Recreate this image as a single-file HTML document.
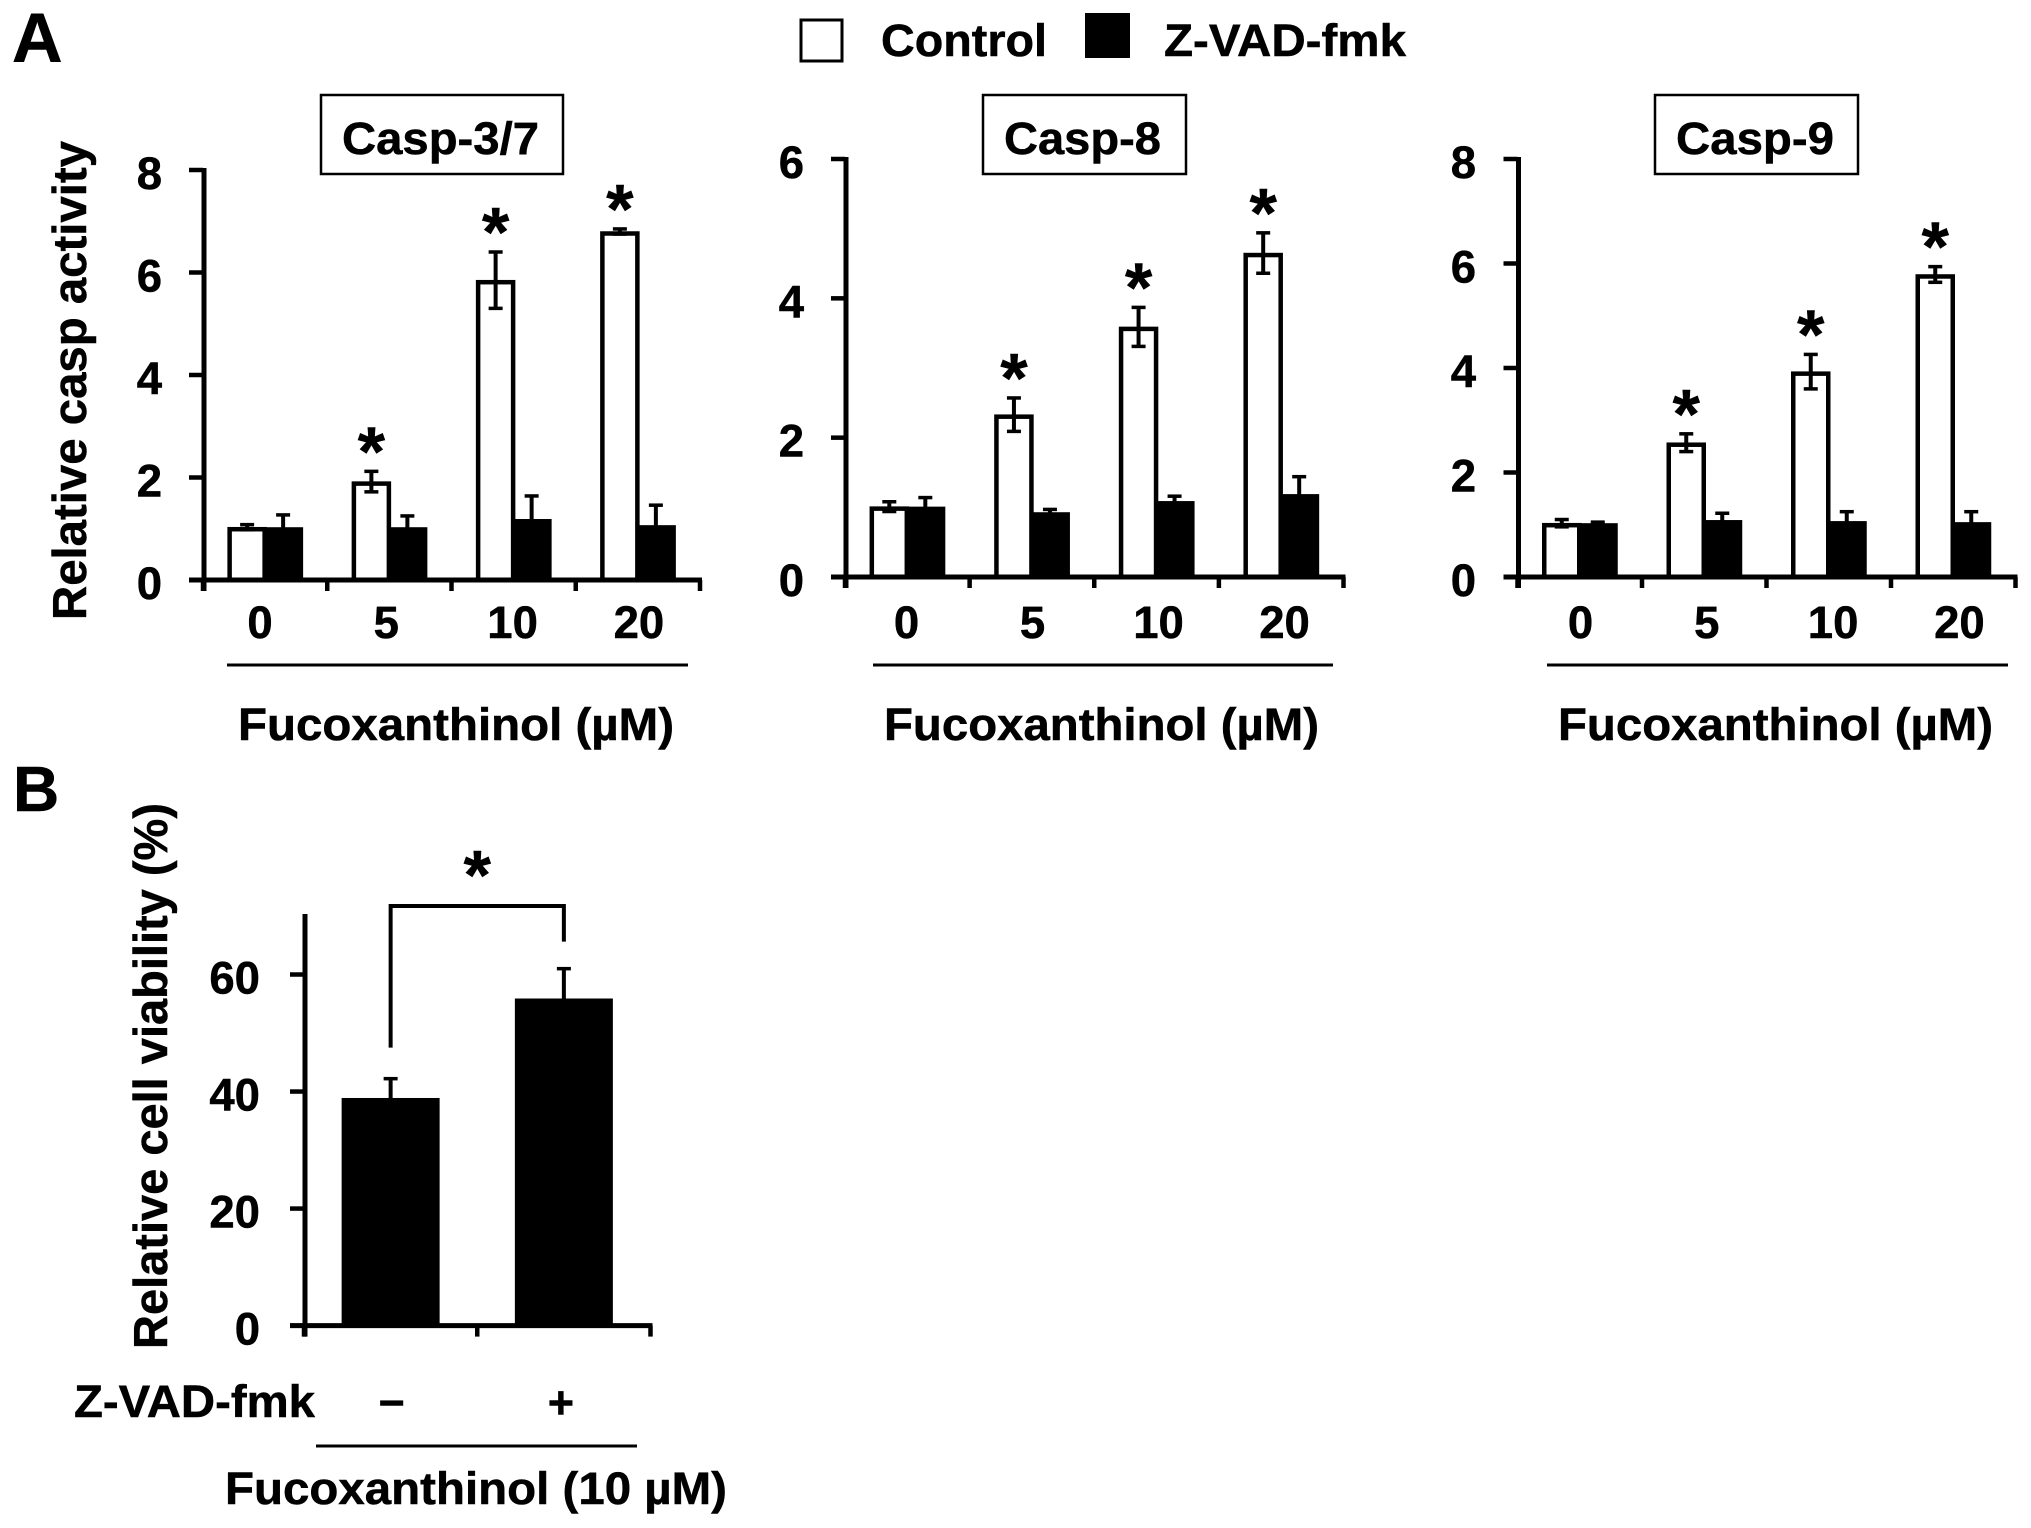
<!DOCTYPE html>
<html lang="en">
<head>
<meta charset="utf-8">
<title>Caspase activity and cell viability with Fucoxanthinol</title>
<style>
  html, body { margin: 0; padding: 0; background: #fff; }
  svg { display: block; }
  text { font-family: "Liberation Sans", Arial, sans-serif; font-weight: 700; fill: #000; stroke: #000; stroke-width: 0.5px; }
</style>
</head>
<body>
<svg id="figure" xmlns="http://www.w3.org/2000/svg" width="2031" height="1528" viewBox="0 0 2031 1528">
  <rect x="0" y="0" width="2031" height="1528" fill="#fff"/>

  <text x="12" y="62" font-size="70">A</text>
  <text x="13" y="811" font-size="64">B</text>

  <g>
    <rect x="801" y="20" width="41" height="41" fill="#fff" stroke="#000" stroke-width="3"/>
    <text x="881" y="56" font-size="45" textLength="166" lengthAdjust="spacingAndGlyphs">Control</text>
    <rect x="1085" y="13" width="45" height="45" fill="#000"/>
    <text x="1164" y="56" font-size="45" textLength="242" lengthAdjust="spacingAndGlyphs">Z-VAD-fmk</text>
  </g>

  <g>
    <rect x="321" y="95" width="242" height="79" fill="#fff" stroke="#000" stroke-width="2.5"/>
    <text x="342" y="154" font-size="45" textLength="197" lengthAdjust="spacingAndGlyphs">Casp-3/7</text>
  </g>
  <g>
    <rect x="983" y="95" width="203" height="79" fill="#fff" stroke="#000" stroke-width="2.5"/>
    <text x="1004" y="154" font-size="45" textLength="157" lengthAdjust="spacingAndGlyphs">Casp-8</text>
  </g>
  <g>
    <rect x="1655" y="95" width="203" height="79" fill="#fff" stroke="#000" stroke-width="2.5"/>
    <text x="1676" y="154" font-size="45" textLength="158" lengthAdjust="spacingAndGlyphs">Casp-9</text>
  </g>

  <text transform="translate(86,620) rotate(-90)" font-size="47" textLength="479" lengthAdjust="spacingAndGlyphs">Relative casp activity</text>
  <text transform="translate(167,1349) rotate(-90)" font-size="47" textLength="546" lengthAdjust="spacingAndGlyphs">Relative cell viability (%)</text>

  <g>
    <line x1="227" y1="665" x2="688" y2="665" stroke="#000" stroke-width="3"/>
    <text x="238" y="740" font-size="45" textLength="436" lengthAdjust="spacingAndGlyphs">Fucoxanthinol (µM)</text>
  </g>
  <g>
    <line x1="873" y1="665" x2="1333" y2="665" stroke="#000" stroke-width="3"/>
    <text x="884" y="740" font-size="45" textLength="435" lengthAdjust="spacingAndGlyphs">Fucoxanthinol (µM)</text>
  </g>
  <g>
    <line x1="1547" y1="665" x2="2008" y2="665" stroke="#000" stroke-width="3"/>
    <text x="1558" y="740" font-size="45" textLength="435" lengthAdjust="spacingAndGlyphs">Fucoxanthinol (µM)</text>
  </g>

  <g>
    <text x="74" y="1417" font-size="45" textLength="241" lengthAdjust="spacingAndGlyphs">Z-VAD-fmk</text>
    <line x1="316" y1="1446" x2="637" y2="1446" stroke="#000" stroke-width="3"/>
    <text x="225" y="1504" font-size="45" textLength="502" lengthAdjust="spacingAndGlyphs">Fucoxanthinol (10 µM)</text>
  </g>

  <g id="plots"></g>
</svg>

<script>
// ---- Panel A data ----
const doseCategories = ['0', '5', '10', '20'];

const casp37Ticks = [0, 2, 4, 6, 8];
const casp37Control = [1.03, 1.92, 5.85, 6.8];
const casp37ControlErr = [0.05, 0.2, 0.55, 0.05];
const casp37Zvad = [1.03, 1.03, 1.19, 1.07];
const casp37ZvadErr = [0.24, 0.22, 0.45, 0.39];
const casp37Significant = [false, true, true, true];

const casp8Ticks = [0, 2, 4, 6];
const casp8Control = [1.01, 2.33, 3.59, 4.65];
const casp8ControlErr = [0.07, 0.24, 0.28, 0.29];
const casp8Zvad = [1.01, 0.93, 1.09, 1.19];
const casp8ZvadErr = [0.13, 0.04, 0.07, 0.25];
const casp8Significant = [false, true, true, true];

const casp9Ticks = [0, 2, 4, 6, 8];
const casp9Control = [1.03, 2.57, 3.93, 5.79];
const casp9ControlErr = [0.07, 0.17, 0.33, 0.15];
const casp9Zvad = [1.03, 1.09, 1.07, 1.05];
const casp9ZvadErr = [0.02, 0.13, 0.18, 0.2];
const casp9Significant = [false, true, true, true];

// ---- Panel B data ----
const viabilityTicks = [0, 20, 40, 60];
const viabilityCategories = ['−', '+'];
const viabilityValues = [38.9, 55.9];
const viabilityErr = [3.3, 5.1];

const SVG_NS = 'http://www.w3.org/2000/svg';
const plots = document.getElementById('plots');

function make(tag, attrs, parent) {
  const node = document.createElementNS(SVG_NS, tag);
  for (const key in attrs) node.setAttribute(key, attrs[key]);
  parent.appendChild(node);
  return node;
}

function linearY(yTop, yBottom, yMax) {
  return function (v) { return yBottom - (v / yMax) * (yBottom - yTop); };
}

function bandX(xStart, xEnd, count) {
  const step = (xEnd - xStart) / count;
  return function (i) { return xStart + step * (i + 0.5); };
}

function drawErrorBar(parent, x, yHigh, yLow, capW, name) {
  const stem = make('line', { x1: x, y1: yHigh, x2: x, y2: yLow, stroke: '#000', 'stroke-width': 4 }, parent);
  
  
  const top = make('line', { x1: x - capW / 2, y1: yHigh, x2: x + capW / 2, y2: yHigh, stroke: '#000', 'stroke-width': 3.5 }, parent);
  
  
  const bottom = make('line', { x1: x - capW / 2, y1: yLow, x2: x + capW / 2, y2: yLow, stroke: '#000', 'stroke-width': 3.5 }, parent);
  
  
}

function drawAxes(parent, c, y, tickValues, tickLabelX, xDivisions) {
  const yAxis = make('line', { x1: c.xStart + 1, y1: c.yTop - 2, x2: c.xStart + 1, y2: c.yBottom + 11, stroke: '#000', 'stroke-width': 5 }, parent);
  
  
  const xAxis = make('line', { x1: c.xStart - 14, y1: c.yBottom, x2: c.xEnd + 2, y2: c.yBottom, stroke: '#000', 'stroke-width': 5 }, parent);
  
  

  tickValues.forEach(function (v) {
    const t = make('line', { x1: c.xStart - 14, y1: y(v), x2: c.xStart, y2: y(v), stroke: '#000', 'stroke-width': 4.5 }, parent);
    
    
    const l = make('text', { x: tickLabelX, y: y(v) + 19, 'text-anchor': 'end', 'font-size': 45.5 }, parent);
    
    
    l.textContent = String(v);
  });

  for (let i = 0; i <= xDivisions; i++) {
    const x = c.xStart + (c.xEnd - c.xStart) * i / xDivisions;
    const t = make('line', { x1: x, y1: c.yBottom, x2: x, y2: c.yBottom + 11, stroke: '#000', 'stroke-width': 4.5 }, parent);
    
    
  }
}

function drawGroupedPanel(c) {
  const g = make('g', {}, plots);
  
  
  const y = linearY(c.yTop, c.yBottom, c.yMax);
  const x = bandX(c.xStart, c.xEnd, c.categories.length);

  c.categories.forEach(function (cat, i) {
    const cx = x(i);
    const white = make('rect', {
      x: cx - 35.5, y: y(c.control[i]) + 2, width: 35,
      height: c.yBottom - y(c.control[i]) - 2,
      fill: '#fff', stroke: '#000', 'stroke-width': 4.5
    }, g);
    
    

    const black = make('rect', {
      x: cx - 1, y: y(c.zvad[i]), width: 39,
      height: c.yBottom - y(c.zvad[i]),
      fill: '#000'
    }, g);
    
    

    drawErrorBar(g, cx - 18, y(c.control[i] + c.controlErr[i]), y(c.control[i] - c.controlErr[i]), 14, c.name + '-error-control-' + cat);
    drawErrorBar(g, cx + 18, y(c.zvad[i] + c.zvadErr[i]), y(c.zvad[i] - c.zvadErr[i]), 14, c.name + '-error-z-vad-fmk-' + cat);

    if (c.significant[i]) {
      const star = make('text', {
        x: cx - 18, y: y(c.control[i] + c.controlErr[i]) + 4,
        'text-anchor': 'middle', 'font-size': 70
      }, g);
      
      
      star.textContent = '*';
    }

    const label = make('text', {
      x: c.labelStart + c.labelStep * i, y: 638,
      'text-anchor': 'middle', 'font-size': 45.5
    }, g);
    
    
    label.textContent = cat;
  });

  drawAxes(g, c, y, c.ticks, c.tickLabelX, c.categories.length);
}

drawGroupedPanel({
  name: 'casp-3-7', categories: doseCategories, ticks: casp37Ticks,
  control: casp37Control, controlErr: casp37ControlErr,
  zvad: casp37Zvad, zvadErr: casp37ZvadErr, significant: casp37Significant,
  xStart: 203, xEnd: 700, yTop: 170, yBottom: 580, yMax: 8,
  tickLabelX: 162, labelStart: 260, labelStep: 126.3
});

drawGroupedPanel({
  name: 'casp-8', categories: doseCategories, ticks: casp8Ticks,
  control: casp8Control, controlErr: casp8ControlErr,
  zvad: casp8Zvad, zvadErr: casp8ZvadErr, significant: casp8Significant,
  xStart: 845, xEnd: 1343.5, yTop: 159, yBottom: 577, yMax: 6,
  tickLabelX: 804, labelStart: 906.5, labelStep: 126
});

drawGroupedPanel({
  name: 'casp-9', categories: doseCategories, ticks: casp9Ticks,
  control: casp9Control, controlErr: casp9ControlErr,
  zvad: casp9Zvad, zvadErr: casp9ZvadErr, significant: casp9Significant,
  xStart: 1517.5, xEnd: 2015.5, yTop: 159, yBottom: 577, yMax: 8,
  tickLabelX: 1476, labelStart: 1580.5, labelStep: 126.3
});

(function drawViability() {
  const c = { name: 'viability', xStart: 304, xEnd: 650.5, yTop: 916, yBottom: 1325.6 };
  const g = make('g', {}, plots);
  
  
  const y = linearY(c.yTop, c.yBottom, 70);
  const x = bandX(c.xStart, c.xEnd, viabilityCategories.length);

  viabilityCategories.forEach(function (cat, i) {
    const cx = x(i);
    const bar = make('rect', {
      x: cx - 49, y: y(viabilityValues[i]), width: 98,
      height: c.yBottom - y(viabilityValues[i]), fill: '#000'
    }, g);
    
    

    drawErrorBar(g, cx, y(viabilityValues[i] + viabilityErr[i]), y(viabilityValues[i] - viabilityErr[i]), 14, 'viability-error-' + i);

    const label = make('text', { x: cx + (i === 0 ? 1 : -3), y: 1418, 'text-anchor': 'middle', 'font-size': 45 }, g);
    
    
    label.textContent = cat;
  });

  drawAxes(g, c, y, viabilityTicks, 260, viabilityCategories.length);

  const bracketTop = 906;
  const bracket = make('path', {
    d: 'M' + x(0) + ' ' + (y(viabilityValues[0] + viabilityErr[0]) - 31) +
       ' V' + bracketTop + ' H' + x(1) +
       ' V' + (y(viabilityValues[1] + viabilityErr[1]) - 27),
    fill: 'none', stroke: '#000', 'stroke-width': 4
  }, g);
  
  

  const star = make('text', { x: (x(0) + x(1)) / 2, y: 899, 'text-anchor': 'middle', 'font-size': 70 }, g);
  
  
  star.textContent = '*';
})();
</script>
</body>
</html>
